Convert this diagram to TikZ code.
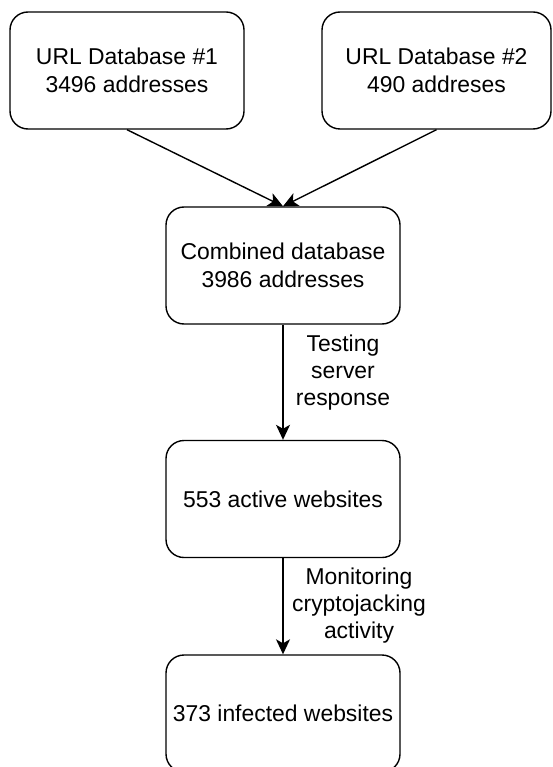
\documentclass[tikz,border=0pt]{standalone}
\usepackage{fontspec}
\setmainfont{Liberation Sans}
\usetikzlibrary{arrows.meta}
\begin{document}
\begin{tikzpicture}[x=1pt,y=-1pt,
  box/.style={draw=black, line width=1.4pt, rounded corners=18pt, fill=white,
    minimum width=234pt, minimum height=117pt, align=center, inner sep=0pt,
    font=\fontsize{22.9}{28}\selectfont},
  lbl/.style={align=center, inner sep=0pt, font=\fontsize{22.9}{27}\selectfont},
  conn/.style={line width=1.4pt, -{Stealth[length=15pt, width=14pt, inset=4pt]}}]
\clip (0,0) rectangle (552,767);
\node[box] (db1) at (127,70.5) {URL Database \#1\\3496 addresses};
\node[box, minimum width=229pt] (db2) at (436.5,70.5) {URL Database \#2\\490 addreses};
\node[box] (comb) at (283,265.5) {Combined database\\3986 addresses};
\node[box] (act) at (283,499) {553 active websites};
\node[box] (inf) at (283,713.5) {373 infected websites};
\draw[conn] (db1.south) -- (comb.north);
\draw[conn] (db2.south) -- (comb.north);
\draw[conn] (comb.south) -- node[lbl, pos=0.42, xshift=60pt] (l1) {Testing\\server\\response} (act.north);
\draw[conn] (act.south) -- node[lbl, pos=0.49, xshift=76pt] (l2) {Monitoring\\cryptojacking\\activity} (inf.north);
\end{tikzpicture}
\end{document}
